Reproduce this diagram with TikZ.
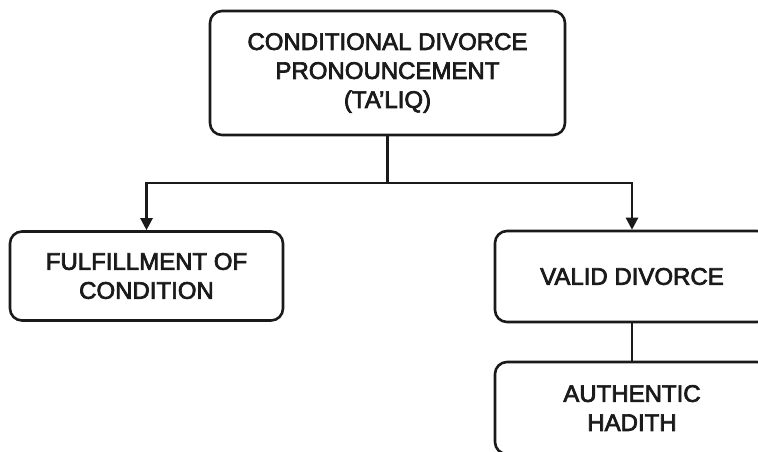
\documentclass[tikz,border=0pt]{standalone}
\usepackage{fontspec}
\usetikzlibrary{arrows.meta}
\newfontfamily\labfont[FakeBold=3]{Liberation Sans}
\definecolor{ink}{HTML}{1A1A1A}
\tikzset{
  box/.style={draw=ink, line width=2.6pt, rounded corners=12pt, fill=white,
    align=center, text=ink, font=\labfont\fontsize{24}{29}\selectfont, inner sep=0pt},
  link/.style={draw=ink, line width=2.4pt},
  arr/.style={link, -{Triangle[length=12pt, width=12pt]}}
}
\begin{document}
\begin{tikzpicture}[x=1pt, y=-1pt]
\useasboundingbox (0,0) rectangle (758,451);
\clip (0,0) rectangle (758,451);
\fill[white] (0,0) rectangle (758,451);
\node[box, minimum width=355pt, minimum height=124pt] (top) at (387.5,73)
  {CONDITIONAL DIVORCE\\PRONOUNCEMENT\\(TA’LIQ)};
\node[box, minimum width=273pt, minimum height=89pt] (left) at (146.5,276)
  {FULFILLMENT OF\\CONDITION};
\node[box, minimum width=274pt, minimum height=91pt] (valid) at (632,276.5)
  {VALID DIVORCE};
\node[box, minimum width=274pt, minimum height=92pt] (hadith) at (632,408)
  {AUTHENTIC\\HADITH};
\coordinate (j) at (387.5,183);
\draw[link] (top.south) -- (j);
\draw[arr] (j) -| (left.north);
\draw[arr] (j) -| (valid.north);
\draw[link] (valid.south) -- (hadith.north);
\end{tikzpicture}
\end{document}
